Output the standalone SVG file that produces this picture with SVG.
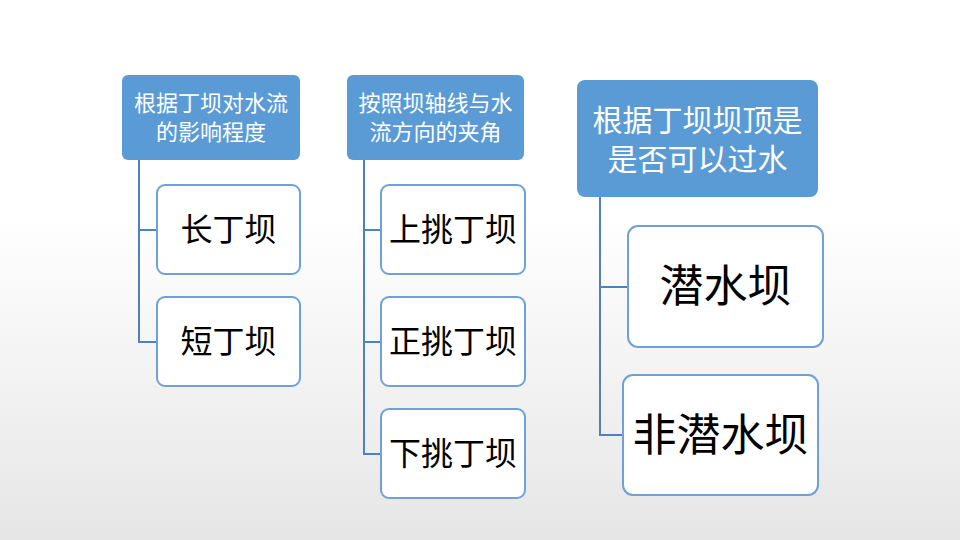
<svg xmlns="http://www.w3.org/2000/svg" width="960" height="540" viewBox="0 0 960 540">
<defs>
<linearGradient id="bg" x1="0" y1="0" x2="0" y2="1">
<stop offset="0" stop-color="#ffffff"/><stop offset="0.4" stop-color="#ffffff"/><stop offset="1" stop-color="#e6e6e6"/>
</linearGradient>
<style>
.h{fill:#5B9BD5;}
.c{fill:#ffffff;stroke:#6FA0D8;stroke-width:2;}
.ht{fill:#fff;font-family:"Noto Sans CJK SC",sans-serif;text-anchor:middle;}
.ct{fill:#000;font-family:"Noto Sans CJK SC",sans-serif;text-anchor:middle;}
.l{stroke:#4F81BD;stroke-width:2;fill:none;}
</style>
</defs>
<rect width="960" height="540" fill="url(#bg)"/>
<g id="connectors">
<path class="l" d="M139 160V342H157M139 230H157"/>
<path class="l" d="M364 160V454H381M364 230H381M364 342H381"/>
<path class="l" d="M600 197V435H623M600 287H628"/>
</g>
<g id="h1"><rect class="h" x="122" y="75" width="178" height="85" rx="6"/>
<text class="ht" font-size="22"><tspan x="211" y="111">根据丁坝对水流</tspan><tspan x="211" y="140">的影响程度</tspan></text></g>
<g id="c1a"><rect class="c" x="157" y="185" width="143" height="89" rx="8"/><text class="ct" x="228.5" y="241" font-size="32">长丁坝</text></g>
<g id="c1b"><rect class="c" x="157" y="297" width="143" height="89" rx="8"/><text class="ct" x="228.5" y="353" font-size="32">短丁坝</text></g>
<g id="h2"><rect class="h" x="347" y="75" width="177" height="85" rx="6"/>
<text class="ht" font-size="22"><tspan x="435.5" y="111">按照坝轴线与水</tspan><tspan x="435.5" y="140">流方向的夹角</tspan></text></g>
<g id="c2a"><rect class="c" x="381" y="185" width="144" height="89" rx="8"/><text class="ct" x="453" y="241" font-size="32">上挑丁坝</text></g>
<g id="c2b"><rect class="c" x="381" y="297" width="144" height="89" rx="8"/><text class="ct" x="453" y="353" font-size="32">正挑丁坝</text></g>
<g id="c2c"><rect class="c" x="381" y="409" width="144" height="89" rx="8"/><text class="ct" x="453" y="465" font-size="32">下挑丁坝</text></g>
<g id="h3"><rect class="h" x="577" y="80" width="241" height="117" rx="8"/>
<text class="ht" font-size="30"><tspan x="697.5" y="131">根据丁坝坝顶是</tspan><tspan x="697.5" y="170">是否可以过水</tspan></text></g>
<g id="c3a"><rect class="c" x="628" y="226" width="195" height="121" rx="10"/><text class="ct" x="725.5" y="302" font-size="44">潜水坝</text></g>
<g id="c3b"><rect class="c" x="623" y="375" width="195" height="120" rx="10"/><text class="ct" x="720.5" y="451" font-size="44">非潜水坝</text></g>
</svg>
